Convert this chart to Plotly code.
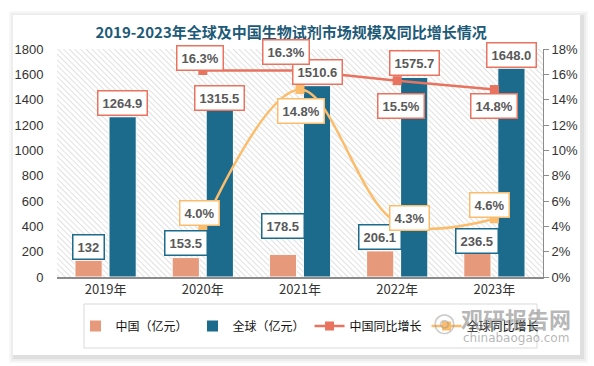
import base64
import plotly.graph_objects as go

# ---------------- data ----------------
years = ["2019年", "2020年", "2021年", "2022年", "2023年"]
china_size = [132, 153.5, 178.5, 206.1, 236.5]
global_size = [1264.9, 1315.5, 1510.6, 1575.7, 1648.0]
growth_years = ["2020年", "2021年", "2022年", "2023年"]
china_growth = [16.3, 16.3, 15.5, 14.8]
global_growth = [4.0, 14.8, 4.3, 4.6]
left_ticks = [0, 200, 400, 600, 800, 1000, 1200, 1400, 1600, 1800]
right_ticks = [0, 2, 4, 6, 8, 10, 12, 14, 16, 18]
right_tick_text = ["%d%%" % v for v in right_ticks]

# ---------------- styles ----------------
C_CHINA = "#e69a7b"
C_GLOBAL = "#1c6a8c"
C_CG = "#e8735f"
C_GG = "#fbbd6c"
LABEL_FONT = dict(family="Liberation Sans, Arial", size=13, color="#595959")

# label pixel offsets (x, y) — layout styling only
china_off = [(0, 13), (0, 15), (0, 28), (0, 14), (0, 6)]
global_off = [(0, 14), (0, 12), (0, 14), (0, 14), (0, 13)]
cg_off = [(-3, 13), (-14, 19), (4, -25), (0, -16)]
gg_off = [(-3, 13), (1, -21), (12, 5), (-5, 14)]

W, H = 594, 366
ML, MR, MT, MB = 57, 51, 49, 89
PW, PH = W - ML - MR, H - MT - MB


def px(xp):
    return (xp - ML) / PW


def py(yp):
    return (H - MB - yp) / PH


fig = go.Figure()
fig.add_trace(go.Bar(name="中国（亿元）", x=years, y=china_size,
                     marker=dict(color=C_CHINA, line=dict(color="white", width=1)),
                     yaxis="y"))
fig.add_trace(go.Bar(name="全球（亿元）", x=years, y=global_size,
                     marker=dict(color=C_GLOBAL, line=dict(color="white", width=1)),
                     yaxis="y"))
fig.add_trace(go.Scatter(name="中国同比增长", x=growth_years, y=china_growth,
                         mode="lines+markers", yaxis="y2",
                         line=dict(color=C_CG, width=2.5),
                         marker=dict(symbol="square", size=9, color=C_CG)))
fig.add_trace(go.Scatter(name="全球同比增长", x=growth_years, y=global_growth,
                         mode="lines+markers", yaxis="y2",
                         line=dict(color=C_GG, width=2.5, shape="spline", smoothing=1.0),
                         marker=dict(symbol="square", size=9, color=C_GG)))

ann = []


def box(x, y, text, border, off, dx, yref):
    ann.append(dict(x=x, y=y, xref="x", yref=yref, text="<b>%s</b>" % text,
                    showarrow=False, font=LABEL_FONT, bgcolor="white",
                    bordercolor=border, borderwidth=1.5, borderpad=4,
                    xshift=dx + off[0], yshift=off[1], yanchor="middle"))


for i, yr in enumerate(years):
    box(yr, china_size[i], "%g" % china_size[i], C_GLOBAL, china_off[i], -17, "y")
    box(yr, global_size[i], "%.1f" % global_size[i], C_CG, global_off[i], 17, "y")
for i, yr in enumerate(growth_years):
    box(yr, china_growth[i], "%.1f%%" % china_growth[i], C_CG, cg_off[i], 0, "y2")
    box(yr, global_growth[i], "%.1f%%" % global_growth[i], C_GG, gg_off[i], 0, "y2")

# watermark
WM = dict(showarrow=False, xref="paper", yref="paper", xanchor="center", yanchor="middle")
ann.append(dict(WM, x=px(516), y=py(318), text="<b>观研报告网</b>",
                font=dict(family="Noto Sans CJK SC", size=22, color="rgba(120,120,120,0.55)")))
ann.append(dict(WM, x=px(516), y=py(338), text="chinabaogao.com",
                font=dict(family="DejaVu Sans", size=12, color="rgba(120,120,120,0.55)")))
ann.append(dict(WM, x=px(444), y=py(322), text="◎",
                font=dict(family="DejaVu Sans", size=26, color="rgba(150,150,150,0.5)")))

# hatch background for the plot area
svg = ('<svg xmlns="http://www.w3.org/2000/svg" width="%d" height="%d">'
       '<defs><pattern id="p" width="4" height="4" patternUnits="userSpaceOnUse" '
       'patternTransform="rotate(-45)"><rect width="4" height="4" fill="#ffffff"/>'
       '<line x1="0" y1="0" x2="0" y2="4" stroke="#d2d2d2" stroke-width="1.3"/></pattern></defs>'
       '<rect width="100%%" height="100%%" fill="url(#p)"/></svg>') % (PW, PH)
src = "data:image/svg+xml;base64," + base64.b64encode(svg.encode()).decode()

shapes = []
# card shadow
for k, op in [(6, 0.03), (4, 0.04), (2, 0.06)]:
    shapes.append(dict(type="rect", xref="paper", yref="paper", layer="below",
                       x0=px(13 - k + 2), x1=px(580 + k + 2), y0=py(355 + k + 2), y1=py(15 - k + 2),
                       fillcolor="rgba(0,0,0,%g)" % op, line=dict(width=0)))
shapes.append(dict(type="rect", xref="paper", yref="paper", layer="below",
                   x0=px(13), x1=px(580), y0=py(355), y1=py(15),
                   fillcolor="white", line=dict(width=0)))
# legend frame
shapes.append(dict(type="rect", xref="paper", yref="paper", layer="below",
                   x0=px(84), x1=px(537), y0=py(348), y1=py(304),
                   fillcolor="rgba(0,0,0,0)", line=dict(color="#d9d9d9", width=1)))

fig.update_layout(
    width=W, height=H,
    margin=dict(l=ML, r=MR, t=MT, b=MB, autoexpand=False),
    paper_bgcolor="#ffffff", plot_bgcolor="rgba(0,0,0,0)",
    barmode="group", bargap=0.30, bargroupgap=0.2,
    title=dict(text="<b>2019-2023年全球及中国生物试剂市场规模及同比增长情况</b>",
               x=0.49, xanchor="center", y=1 - 33 / H, yanchor="middle",
               font=dict(family="Noto Sans CJK SC", size=15, color="#1d5a78")),
    font=dict(family="Noto Sans CJK SC, Liberation Sans", size=13, color="#333333"),
    xaxis=dict(showgrid=False, showline=True, linecolor="#8c8c8c", linewidth=1.5,
               ticks="", tickfont=dict(size=13, color="#333333"), fixedrange=True),
    yaxis=dict(range=[0, 1800], tickvals=left_ticks, showgrid=False, zeroline=False,
               ticks="outside", ticklen=10, tickcolor="rgba(0,0,0,0)",
               tickfont=dict(family="Liberation Sans, Arial", size=13, color="#333333")),
    yaxis2=dict(range=[0, 18], tickvals=right_ticks, ticktext=right_tick_text,
                overlaying="y", side="right", showgrid=False, zeroline=False,
                showline=True, linecolor="#8c8c8c", linewidth=1, ticks="outside",
                ticklen=5, tickcolor="#8c8c8c",
                tickfont=dict(family="Liberation Sans, Arial", size=13, color="#333333")),
    legend=dict(orientation="h", x=px(310), xanchor="center", y=py(326), yanchor="middle",
                borderwidth=0, bgcolor="rgba(255,255,255,0)",
                font=dict(family="Noto Sans CJK SC", size=12, color="#111111"),
                traceorder="normal", itemwidth=30),
    annotations=ann,
    shapes=shapes,
    images=[dict(source=src, xref="x domain", yref="y domain", x=0, y=1,
                 sizex=1, sizey=1, xanchor="left", yanchor="top",
                 sizing="stretch", layer="below")],
    showlegend=True,
)

fig.write_html("out.html", config={"displayModeBar": False},
               post_script="document.body.style.margin='0';document.body.style.overflow='hidden';")
